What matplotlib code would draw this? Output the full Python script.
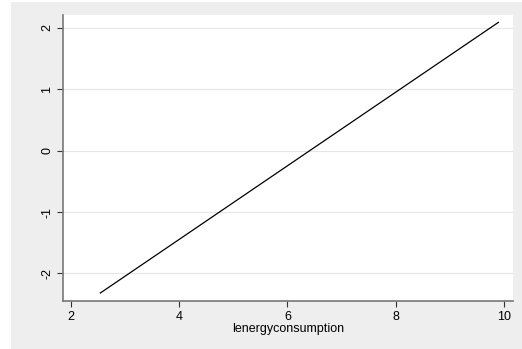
import matplotlib
matplotlib.use("Agg")
import matplotlib.pyplot as plt
from matplotlib.patches import Rectangle

# Data
x_vals = [2.54, 9.9]
y_vals = [-2.32, 2.09]
x_ticks = [2, 4, 6, 8, 10]
y_ticks = [-2, -1, 0, 1, 2]
x_label = "lenergyconsumption"

W, H = 522, 349
fig = plt.figure(figsize=(W / 100, H / 100), dpi=100)
fig.patch.set_facecolor("white")
fig.patches.append(Rectangle((11 / W, 0), 1 - 11 / W, 1 - 2 / H,
                             transform=fig.transFigure, facecolor="#eeeeee",
                             edgecolor="none", zorder=-10))

left, right, top, bottom = 63, 513, 15, 301
ax = fig.add_axes([left / W, 1 - bottom / H, (right - left) / W, (bottom - top) / H])
ax.set_facecolor("white")

ax.plot(x_vals, y_vals, color="black", lw=0.9, zorder=3)

ax.set_xlim(1.85, 10.17)
ax.set_ylim(-2.45, 2.21)
ax.set_xticks(x_ticks)
ax.set_yticks(y_ticks)
ax.set_xticklabels([str(t) for t in x_ticks])
ax.set_yticklabels([str(t) for t in y_ticks], rotation=90, va="center")

for t in y_ticks:
    ax.axhline(t, color="#e6e6e6", lw=0.8, zorder=1)

for s in ["top", "right"]:
    ax.spines[s].set_visible(False)
for s in ["left", "bottom"]:
    ax.spines[s].set_color("#777777")
    ax.spines[s].set_linewidth(1.2)

font = "Liberation Sans"
ax.tick_params(axis="both", direction="out", length=4, width=0.8, color="#333333",
               labelsize=9, pad=3)
for lab in ax.get_xticklabels() + ax.get_yticklabels():
    lab.set_fontfamily(font)
ax.set_xlabel(x_label, fontsize=9, fontfamily=font, labelpad=0.5)

fig.savefig("out.png", dpi=100, facecolor=fig.get_facecolor())
